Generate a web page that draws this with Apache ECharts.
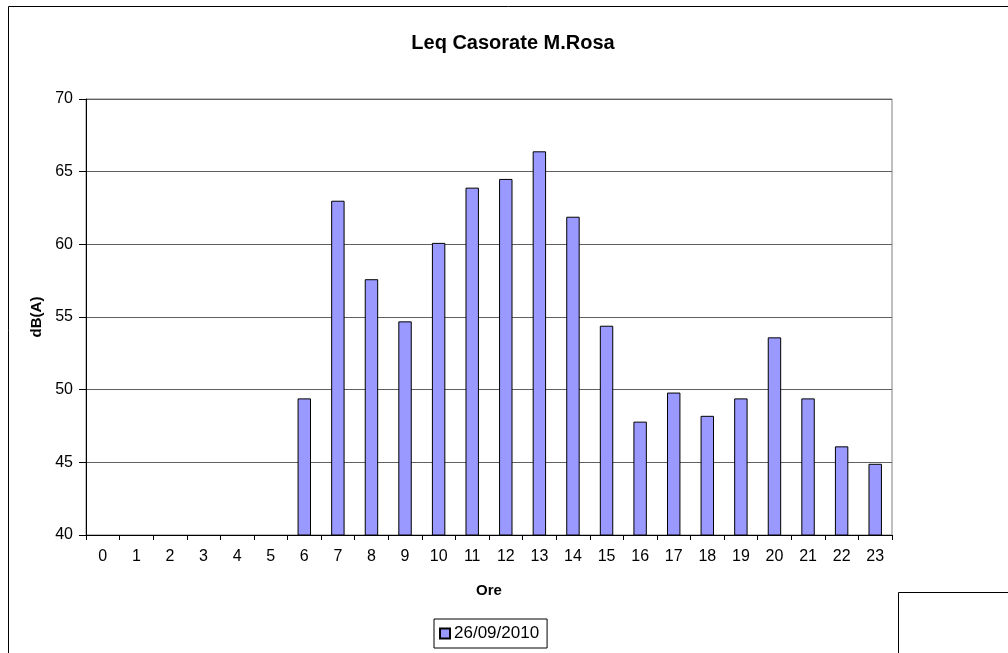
<!DOCTYPE html>
<html>
<head>
<meta charset="utf-8">
<script src="https://cdn.jsdelivr.net/npm/echarts@6/dist/echarts.min.js"></script>
<style>
  html, body { margin: 0; padding: 0; background: #fff; }
  #main { width: 1008px; height: 653px; }
</style>
</head>
<body>
<div id="main"></div>
<script>
// ore del giorno
var hours = ['0','1','2','3','4','5','6','7','8','9','10','11','12','13','14','15','16','17','18','19','20','21','22','23'];
// Leq dB(A), ore 0-5 senza misura
var leq = [null, null, null, null, null, null,
  49.4, 63.0, 57.6, 54.7, 60.1, 63.9, 64.5, 66.4, 61.9, 54.4,
  47.8, 49.8, 48.2, 49.4, 53.6, 49.4, 46.1, 44.9];
var yTicks = [40, 70, 5]; // min, max, interval

var chart = echarts.init(document.getElementById('main'));
var font = 'Liberation Sans, Arial, sans-serif';

var option = {
  animation: false,
  textStyle: { fontFamily: font },
  title: {
    text: 'Leq Casorate M.Rosa',
    left: 508,
    top: 28,
    textAlign: 'center',
    textStyle: { fontSize: 20, fontWeight: 'bold', color: '#000', fontFamily: font }
  },
  grid: {
    left: 86, right: 116, top: 99, bottom: 118,
    show: true, borderColor: '#808080', borderWidth: 1
  },
  legend: {
    data: ['26/09/2010'],
    left: 434, top: 619,
    padding: [6, 8, 6, 5],
    itemGap: 4,
    itemWidth: 10, itemHeight: 10,
    borderColor: '#000', borderWidth: 1,
    icon: 'rect',
    textStyle: { fontSize: 17, color: '#000', fontFamily: font, padding: [0, 0, 0, -1] }
  },
  xAxis: {
    type: 'category',
    data: hours,
    name: 'Ore',
    nameLocation: 'middle',
    nameGap: 48,
    nameTextStyle: { fontSize: 15, fontWeight: 'bold', color: '#000', fontFamily: font },
    axisLine: { lineStyle: { color: '#000' } },
    axisTick: { show: true, length: 5, lineStyle: { color: '#000' } },
    axisLabel: { fontSize: 16, color: '#000', margin: 14, fontFamily: font }
  },
  yAxis: {
    type: 'value',
    min: yTicks[0], max: yTicks[1], interval: yTicks[2],
    name: 'dB(A)',
    nameLocation: 'middle',
    nameGap: 40,
    nameRotate: 90,
    nameTextStyle: { fontSize: 15, fontWeight: 'bold', color: '#000', fontFamily: font },
    axisLine: { show: true, lineStyle: { color: '#000' } },
    axisTick: { show: true, length: 7, lineStyle: { color: '#000' } },
    axisLabel: { fontSize: 16, color: '#000', margin: 13, fontFamily: font },
    splitLine: { show: true, lineStyle: { color: '#606060', width: 1 } }
  },
  series: [{
    name: '26/09/2010',
    type: 'bar',
    data: leq,
    barWidth: '40%',
    itemStyle: { color: '#9999FF', borderColor: '#000', borderWidth: 1 }
  }],
  graphic: [
    { type: 'rect', shape: { x: 8.5, y: 6.5, width: 1200, height: 800 },
      style: { fill: 'none', stroke: '#000', lineWidth: 1 }, silent: true, z: -1 },
    { type: 'rect', shape: { x: 898.5, y: 592.5, width: 300, height: 200 },
      style: { fill: '#fff', stroke: '#000', lineWidth: 1 }, silent: true }
  ]
};
chart.setOption(option);
</script>
</body>
</html>
